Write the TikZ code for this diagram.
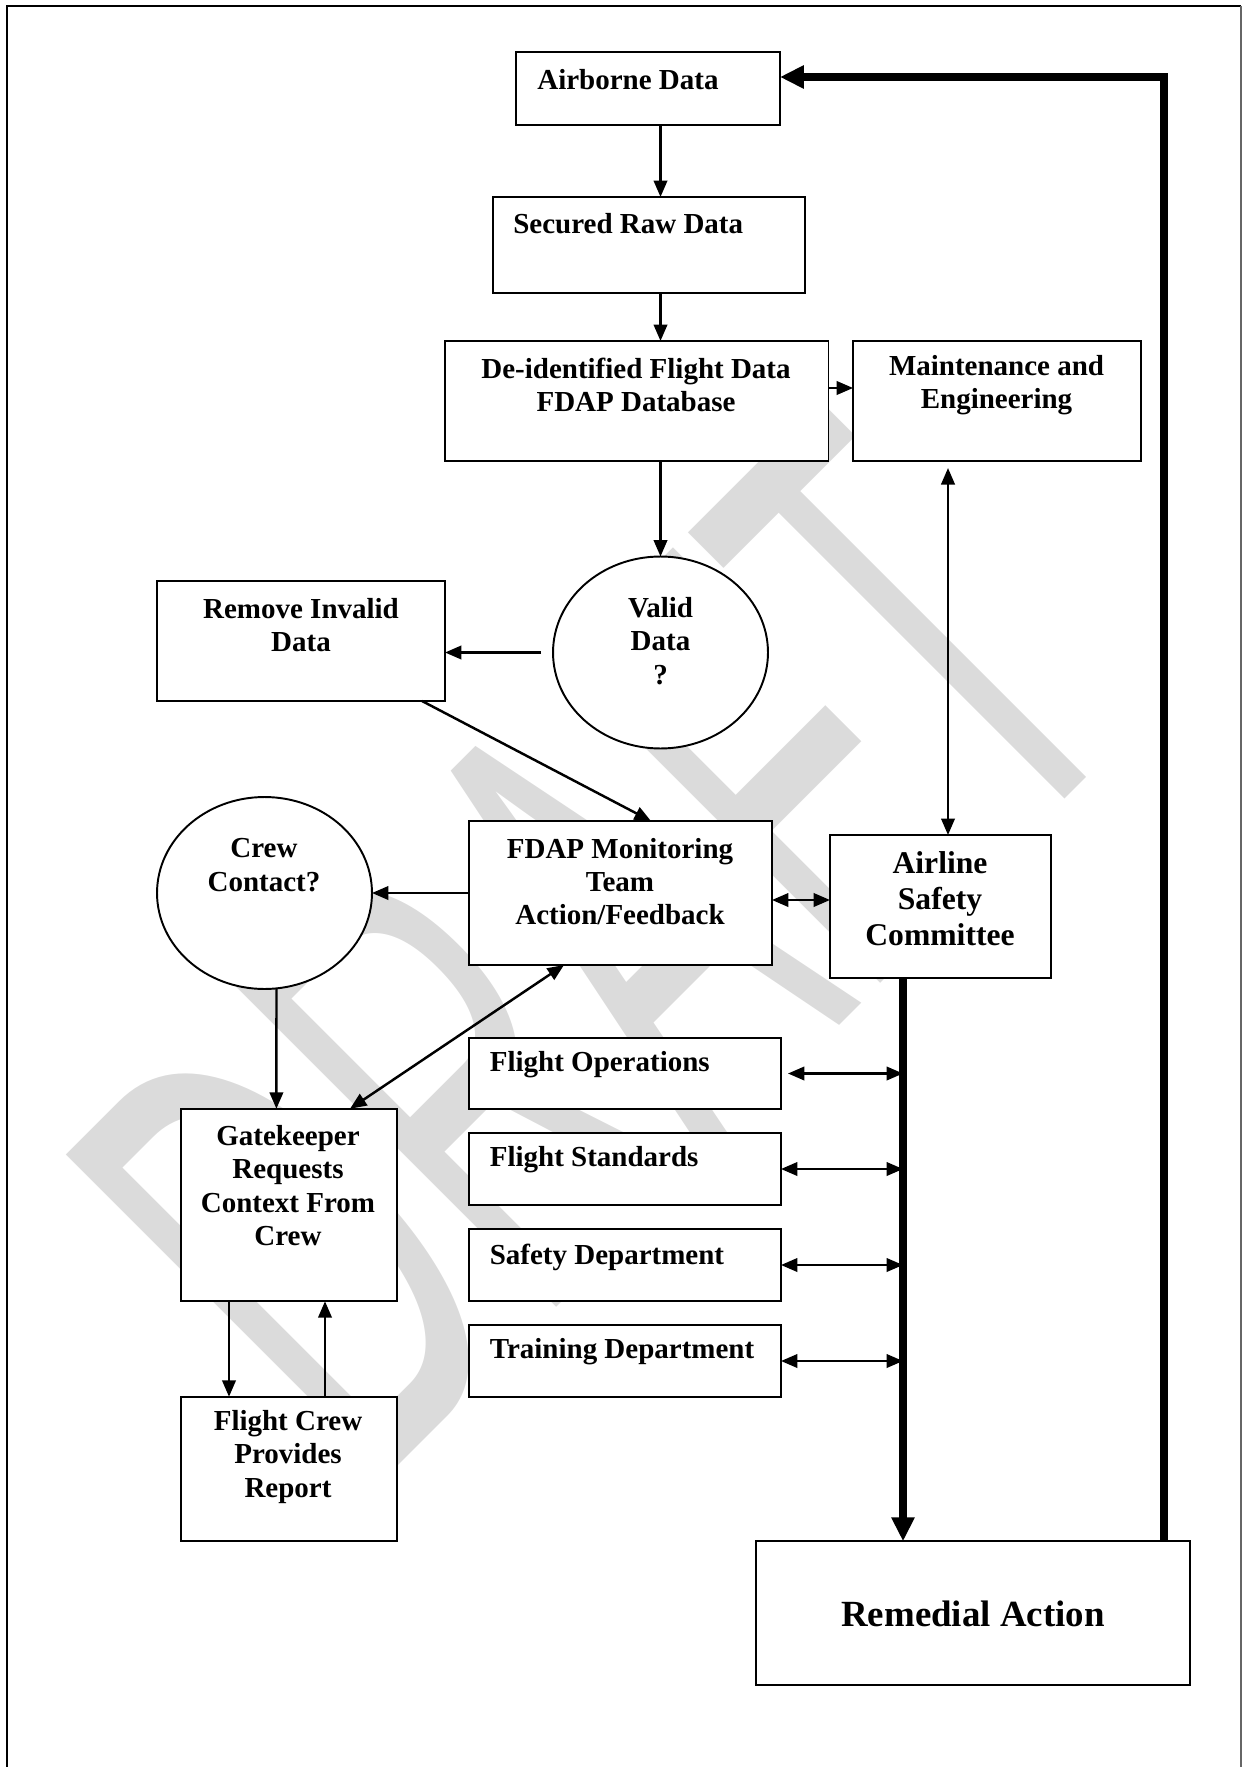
\documentclass[tikz,border=0pt]{standalone}
\usepackage{fontspec}
\setmainfont{Liberation Serif}
\newfontfamily\wmfont{Liberation Sans}
\usetikzlibrary{calc,arrows.meta,shapes.geometric}
\tikzset{
  box/.style={draw,fill=white,line width=1.1pt,inner sep=0pt,outer sep=0pt},
  oval/.style={ellipse,draw,fill=white,line width=1.1pt,inner sep=0pt,outer sep=0pt,minimum width=4.3cm,minimum height=3.84cm},
  side/.style={box,minimum width=6.24cm,minimum height=1.43cm},
  txt/.style={font=\bfseries\fontsize{16.5}{19}\selectfont,align=center,inner sep=0pt},
  arr/.style={line width=1.4pt,-{Triangle[length=0.33cm,width=0.27cm]}},
  darr/.style={line width=1.4pt,{Triangle[length=0.33cm,width=0.27cm]}-{Triangle[length=0.33cm,width=0.27cm]}},
  heavy/.style={line width=0.15cm,-{Triangle[length=0.48cm,width=0.44cm]}},
  wm/.style={font=\wmfont\fontsize{188}{190}\selectfont,text=black!14,inner sep=0pt,transform shape}
}
\begin{document}
\begin{tikzpicture}[x=0.02cm,y=-0.02cm]
\useasboundingbox (0,0) rectangle (1242,1767);
% watermark
\begin{scope}[shift={(368.5,1495.5)},rotate=45,yscale=2]
\node[wm,anchor=base west] (wmk) at (0,0) {DRAFT};
\end{scope}
% page frame
\draw[line width=1.3pt] (7,1767) -- (7,6) -- (1241,6);
\draw[line width=0.6pt,black!60] (1241,6) -- (1241,1767);

% boxes
\node[box,minimum width=5.28cm,minimum height=1.46cm] (air) at (648,88.5) {};
\node[box,minimum width=6.24cm,minimum height=1.92cm] (srd) at (649,245) {};
\node[box,minimum width=7.67cm,minimum height=2.4cm] (deid) at (636.75,401) {};
\node[box,minimum width=5.75cm,minimum height=2.4cm] (mnt) at (996.8,401) {};
\node[oval] (valid) at (660.5,652.5) {};
\node[box,minimum width=5.76cm,minimum height=2.4cm] (rem) at (301,641) {};
\node[oval] (crew) at (264.5,893) {};
\node[box,minimum width=6.06cm,minimum height=2.88cm] (fdap) at (620.5,893) {};
\node[box,minimum width=4.42cm,minimum height=2.86cm] (asc) at (940.5,906.5) {};
\node[box,minimum width=4.32cm,minimum height=3.85cm] (gate) at (289,1205) {};
\node[box,minimum width=4.32cm,minimum height=2.89cm] (fcr) at (289,1469) {};
\node[side] (fops) at (625,1073.5) {};
\node[side] (fstd) at (625,1169) {};
\node[side] (safd) at (625,1265) {};
\node[side] (trd) at (625,1361) {};
\node[box,minimum width=8.68cm,minimum height=2.87cm] (remed) at (973,1613) {};

% texts
\node[txt,anchor=west] (airT) at (537,80) {Airborne Data};
\node[txt,anchor=west] (srdT) at (513,224) {Secured Raw Data};
\node[txt] (deidT) at (636,385) {De-identified Flight Data\\FDAP Database};
\node[txt] (mntT) at (996.5,385) {Maintenance and\\Engineering};
\node[txt] (validT) at (660.5,641) {Valid\\Data\\?};
\node[txt] (remT) at (301,625) {Remove Invalid\\Data};
\node[txt] (crewT) at (264,865) {Crew\\Contact?};
\node[txt] (fdapT) at (620,881.5) {FDAP Monitoring\\Team\\Action/Feedback};
\node[txt,font=\bfseries\fontsize{18}{20.5}\selectfont] (ascT) at (940,899) {Airline\\Safety\\Committee};
\node[txt] (gateT) at (288,1185.5) {Gatekeeper\\Requests\\Context From\\Crew};
\node[txt] (fcrT) at (288,1457) {Flight Crew\\Provides\\Report};
\node[txt,anchor=west] (fopsT) at (489.5,1064.6) {Flight Operations};
\node[txt,anchor=west] (fstdT) at (489.5,1160) {Flight Standards};
\node[txt,anchor=west] (safdT) at (489.5,1257) {Safety Department};
\node[txt,anchor=west] (trdT) at (489.5,1352) {Training Department};
\node[txt,font=\bfseries\fontsize{21}{24}\selectfont] (remedT) at (973,1614) {Remedial Action};

% connectors
\draw[arr] (air.south -| valid) -- (srd.north -| valid);
\draw[arr] (srd.south -| valid) -- (deid.north -| valid);
\draw[arr] (deid.south -| valid) -- (valid.north);
\draw[arr] ($(deid.east)+(0,-13)$) -- ($(mnt.west)+(0,-13)$);
\draw[arr] ($(valid.west)+(-12,0)$) -- (valid.west -| rem.east);
\draw[arr] ($(rem.south)+(121,0)$) -- ($(fdap.north)+(30.5,0)$);
\draw[darr] ($(asc.north)+(7.5,-367)$) -- ($(asc.north)+(7.5,0)$);
\draw[arr] (fdap.west) -- (crew.east);
\draw[darr] ($(fdap.east)+(0,7)$) -- ($(asc.west)+(0,-6.5)$);
\draw[arr] ($(crew.south)+(12,0)$) -- ($(gate.north)+(-12.6,0)$);
\draw[darr] ($(gate.north)+(61,0)$) -- ($(fdap.south)+(-56.5,0)$);
\draw[arr] ($(gate.south)+(-60,0)$) -- ($(fcr.north)+(-60,0)$);
\draw[arr] ($(fcr.north)+(36,0)$) -- ($(gate.south)+(36,0)$);
\coordinate (bus) at ($(asc.south)+(-37.5,0)$);
\draw[darr] ($(fops.east)+(7,0)$) -- (fops.east -| bus);
\draw[darr] (fstd.east) -- (fstd.east -| bus);
\draw[darr] (safd.east) -- (safd.east -| bus);
\draw[darr] (trd.east) -- (trd.east -| bus);
\draw[heavy] (bus) -- (bus |- remed.north);
\draw[heavy] ($(remed.north)+(191,0)$) |- ($(air.east)+(0,-11.5)$);
\end{tikzpicture}
\end{document}
